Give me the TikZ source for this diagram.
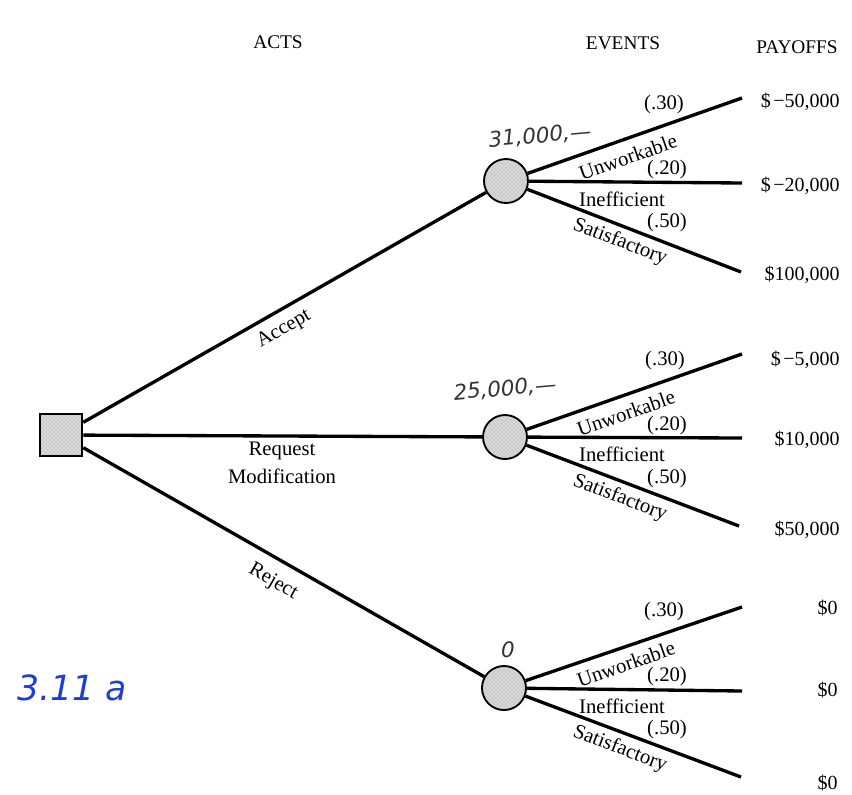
\documentclass[tikz,border=0pt]{standalone}
\usepackage{fontspec}
\usetikzlibrary{patterns}
\setmainfont{Liberation Serif}
\newfontfamily\handfont{DejaVu Sans}
\begin{document}
\begin{tikzpicture}[x=0.75pt,y=-0.75pt,
  branch/.style={line width=2.5pt},
  chance/.style={circle, draw, line width=1.4pt, preaction={fill=gray!30}, pattern=crosshatch dots, pattern color=gray!80, minimum size=33pt, inner sep=0pt},
  decision/.style={rectangle, draw, line width=1.4pt, preaction={fill=gray!30}, pattern=crosshatch dots, pattern color=gray!80, minimum size=32pt, inner sep=0pt},
  lbl/.style={font=\fontsize{15.5}{18}\selectfont, inner sep=1pt},
  head/.style={font=\fontsize{14.5}{17}\selectfont},
  pay/.style={font=\fontsize{15}{18}\selectfont, anchor=east, inner sep=0pt},
  hand/.style={font=\handfont\itshape\fontsize{16}{19}\selectfont, text=black!80},
  blueink/.style={font=\handfont\itshape\fontsize{26}{30}\selectfont, text={rgb,255:red,30;green,60;blue,220}}]
\useasboundingbox (0,0) rectangle (852,794);

% headers
\node[head] (hacts) at (278,42) {ACTS};
\node[head] (hevents) at (623,43) {EVENTS};
\node[head] (hpay) at (797,47) {PAYOFFS};

% decision and chance nodes
\node[decision] (sq) at (61,435) {};
\node[chance] (c1) at (506,181) {};
\node[chance] (c2) at (505,437) {};
\node[chance] (c3) at (504,688) {};

% acts
\draw[branch] (sq) -- (c1);
\draw[branch] (sq) -- (c2);
\draw[branch] (sq) -- (c3);
\node[lbl, rotate=29.7] (laccept) at (284,329) {Accept};
\node[lbl, align=center, font=\fontsize{15.5}{21}\selectfont] (lreq) at (282,463) {Request\\Modification};
\node[lbl, rotate=-29.7] (lreject) at (273,582) {Reject};

% subtree 1
\coordinate (e11) at (742,98);
\coordinate (e12) at (742,183);
\coordinate (e13) at (741,272);
\draw[branch] (c1) -- (e11);
\draw[branch] (c1) -- (e12);
\draw[branch] (c1) -- (e13);
\node[lbl] (p11) at (664,105) {(.30)};
\node[lbl, rotate=19.3] (u1) at (628,157) {Unworkable};
\node[lbl] (p12) at (667,170) {(.20)};
\node[lbl] (i1) at (622,199) {Inefficient};
\node[lbl] (p13) at (667,223) {(.50)};
\node[lbl, rotate=-21] (s1) at (620,242) {Satisfactory};
\node[pay] (v11) at (840,102) {\$\kern2pt−50,000};
\node[pay] (v12) at (840,186) {\$\kern2pt−20,000};
\node[pay] (v13) at (840,275) {\$100,000};

% subtree 2
\coordinate (e21) at (742,354);
\coordinate (e22) at (742,438);
\coordinate (e23) at (739,526);
\draw[branch] (c2) -- (e21);
\draw[branch] (c2) -- (e22);
\draw[branch] (c2) -- (e23);
\node[lbl] (p21) at (665,361) {(.30)};
\node[lbl, rotate=19.3] (u2) at (626,413) {Unworkable};
\node[lbl] (p22) at (667,426) {(.20)};
\node[lbl] (i2) at (622,454) {Inefficient};
\node[lbl] (p23) at (667,479) {(.50)};
\node[lbl, rotate=-21] (s2) at (620,498) {Satisfactory};
\node[pay] (v21) at (840,360) {\$\kern2pt−5,000};
\node[pay] (v22) at (840,440) {\$10,000};
\node[pay] (v23) at (840,530) {\$50,000};

% subtree 3
\coordinate (e31) at (742,607);
\coordinate (e32) at (742,691);
\coordinate (e33) at (741,777);
\draw[branch] (c3) -- (e31);
\draw[branch] (c3) -- (e32);
\draw[branch] (c3) -- (e33);
\node[lbl] (p31) at (664,612) {(.30)};
\node[lbl, rotate=19.3] (u3) at (626,664) {Unworkable};
\node[lbl] (p32) at (667,677) {(.20)};
\node[lbl] (i3) at (622,706) {Inefficient};
\node[lbl] (p33) at (667,730) {(.50)};
\node[lbl, rotate=-21] (s3) at (620,749) {Satisfactory};
\node[pay] (v31) at (838,608) {\$0};
\node[pay] (v32) at (838,690) {\$0};
\node[pay] (v33) at (838,783) {\$0};

% handwritten annotations
\node[hand, rotate=5] (h1) at (540,136) {31,000,—};
\node[hand, rotate=5] (h2) at (505,389) {25,000,—};
\node[hand] (h3) at (508,650) {0};
\node[blueink] (h4) at (72,688) {3.11 a};
\end{tikzpicture}
\end{document}
